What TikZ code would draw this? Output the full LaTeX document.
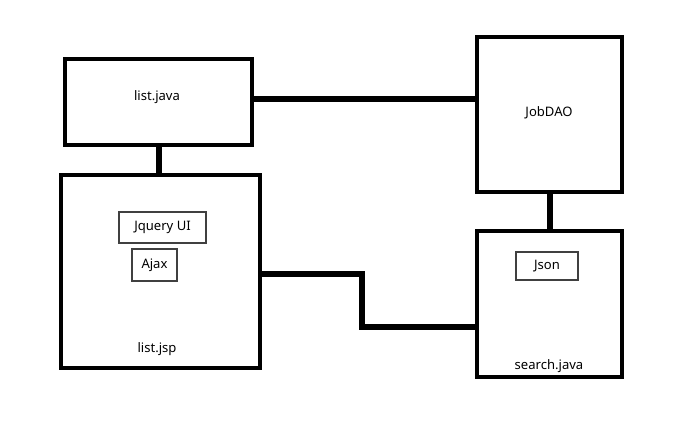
\documentclass[tikz,border=0pt]{standalone}
\usepackage{fontspec}
\setmainfont{Noto Sans}
\begin{document}
\begin{tikzpicture}[x=0.75pt,y=-0.75pt,
  bigbox/.style={draw=black,line width=3pt,inner sep=0pt},
  smallbox/.style={draw=black!75,line width=0.8pt,inner sep=0pt,font=\fontsize{9.8}{12}\selectfont},
  lbl/.style={font=\fontsize{9.8}{12}\selectfont,inner sep=0pt},
  conn/.style={line width=4.5pt}]
\useasboundingbox[fill=white] (0,0) rectangle (694,421);
\node[bigbox, minimum width=140.25pt, minimum height=64.5pt] (lj) at (158.5,102) {};
\node[bigbox, minimum width=149.25pt, minimum height=144.75pt] (jsp) at (160.5,271.5) {};
\node[bigbox, minimum width=108.75pt, minimum height=116.25pt] (dao) at (549.5,114.5) {};
\node[bigbox, minimum width=108.75pt, minimum height=109.5pt] (srch) at (549.5,304) {};
\node[lbl] (ljt) at (157,97) {list.java};
\node[lbl] (jspt) at (157,349) {list.jsp};
\node[lbl] (daot) at (549,113) {JobDAO};
\node[lbl] (srcht) at (549,366) {search.java};
\node[smallbox, minimum width=65.25pt, minimum height=23.25pt] (jq) at (162.5,227.5) {Jquery UI};
\node[smallbox, minimum width=33.75pt, minimum height=24pt] (ajax) at (154.5,265) {Ajax};
\node[smallbox, minimum width=46.5pt, minimum height=21pt] (json) at (547,266) {Json};
\coordinate (b1) at (362,274);
\coordinate (b2) at (362,327);
\draw[conn] ([yshift=2.25pt]lj.east) -- ([yshift=2.25pt]lj.east -| dao.west);
\draw[conn] (lj.south) -- (lj.south |- jsp.north);
\draw[conn] (dao.south) -- (dao.south |- srch.north);
\draw[conn] (jsp.east |- b1) -- (b1) -- (b2) -- (b2 -| srch.west);
\end{tikzpicture}
\end{document}
